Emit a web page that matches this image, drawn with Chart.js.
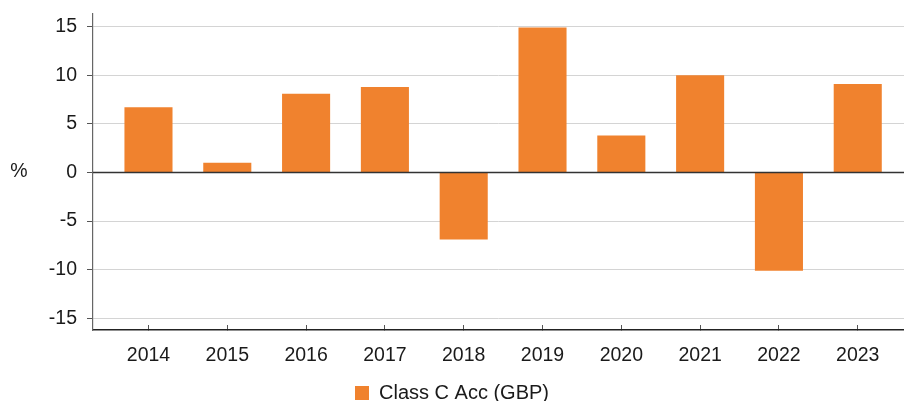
<!DOCTYPE html>
<html>
<head>
<meta charset="utf-8">
<script src="https://cdn.jsdelivr.net/npm/chart.js@4/dist/chart.umd.min.js"></script>
<style>
  html, body { margin: 0; padding: 0; background: #fff; }
  #wrap { width: 904px; height: 401px; position: relative; }
</style>
</head>
<body>
<div id="wrap"><canvas id="c" width="904" height="401"></canvas></div>
<script>
const years = ['2014','2015','2016','2017','2018','2019','2020','2021','2022','2023'];
const classCAcc = [6.7, 1.0, 8.1, 8.8, -6.9, 14.9, 3.8, 10.0, -10.1, 9.1];
const yTicks = [-15, -10, -5, 0, 5, 10, 15];
const seriesName = 'Class C Acc (GBP)';
const axisUnit = '%';

const FONT = "'Liberation Sans', Arial, sans-serif";
const FS = 19.5;
const ORANGE = '#F0822E';

const zeroLinePlugin = {
  id: 'zeroLine',
  afterDatasetsDraw(chart) {
    const y = chart.scales.y, a = chart.chartArea, ctx = chart.ctx;
    const py = y.getPixelForValue(0);
    ctx.save();
    ctx.strokeStyle = '#333';
    ctx.lineWidth = 1.5;
    ctx.beginPath();
    ctx.moveTo(a.left, py);
    ctx.lineTo(a.right, py);
    ctx.stroke();
    ctx.restore();
  }
};

const unitLabelPlugin = {
  id: 'unitLabel',
  afterDraw(chart) {
    const y = chart.scales.y, ctx = chart.ctx;
    ctx.save();
    ctx.font = FS + 'px ' + FONT;
    ctx.fillStyle = '#1a1a1a';
    ctx.textAlign = 'center';
    ctx.textBaseline = 'middle';
    ctx.fillText(axisUnit, 19, y.getPixelForValue(0) - 1);
    ctx.restore();
  }
};

new Chart(document.getElementById('c'), {
  type: 'bar',
  data: {
    datasets: [{
      label: seriesName,
      data: years.map((yr, i) => ({ x: i, y: classCAcc[i] })),
      backgroundColor: ORANGE,
      borderWidth: 0,
      categoryPercentage: 1,
      barPercentage: 0.61
    }]
  },
  options: {
    responsive: false,
    animation: false,
    devicePixelRatio: 1,
    layout: { padding: { top: 14, left: 0, right: 0, bottom: -12 } },
    plugins: {
      tooltip: { enabled: false },
      legend: {
        position: 'bottom',
        labels: {
          font: { family: FONT, size: 20 },
          color: '#1a1a1a',
          boxWidth: 14,
          boxHeight: 14,
          padding: 0
        }
      }
    },
    scales: {
      x: {
        type: 'linear',
        offset: false,
        min: -0.704,
        max: 9.587,
        afterBuildTicks(scale) { scale.ticks = years.map((_, i) => ({ value: i })); },
        afterFit(scale) { scale.height = 53; scale.paddingLeft = 0; scale.paddingRight = 0; },
        ticks: {
          autoSkip: false,
          maxRotation: 0,
          padding: 19,
          font: { family: FONT, size: FS },
          color: '#1a1a1a',
          callback: (v) => years[v]
        },
        grid: {
          offset: false,
          drawOnChartArea: false,
          drawTicks: true,
          tickLength: -5,
          tickColor: '#555',
          tickWidth: 1
        },
        border: { display: true, color: '#222', width: 1.5 }
      },
      y: {
        min: -16.2,
        max: 16.3,
        afterBuildTicks(scale) { scale.ticks = yTicks.map(v => ({ value: v })); },
        afterFit(scale) { scale.width = 93; scale.paddingTop = 0; scale.paddingBottom = 0; },
        ticks: {
          padding: 10,
          font: { family: FONT, size: FS },
          color: '#1a1a1a'
        },
        grid: {
          color: (c) => (c.tick && c.tick.value === 0) ? '#333' : '#d4d4d4',
          lineWidth: 1,
          drawTicks: true,
          tickLength: 6,
          tickColor: '#555'
        },
        border: { display: true, color: '#666', width: 1.2 }
      }
    }
  },
  plugins: [zeroLinePlugin, unitLabelPlugin]
});
</script>
</body>
</html>
